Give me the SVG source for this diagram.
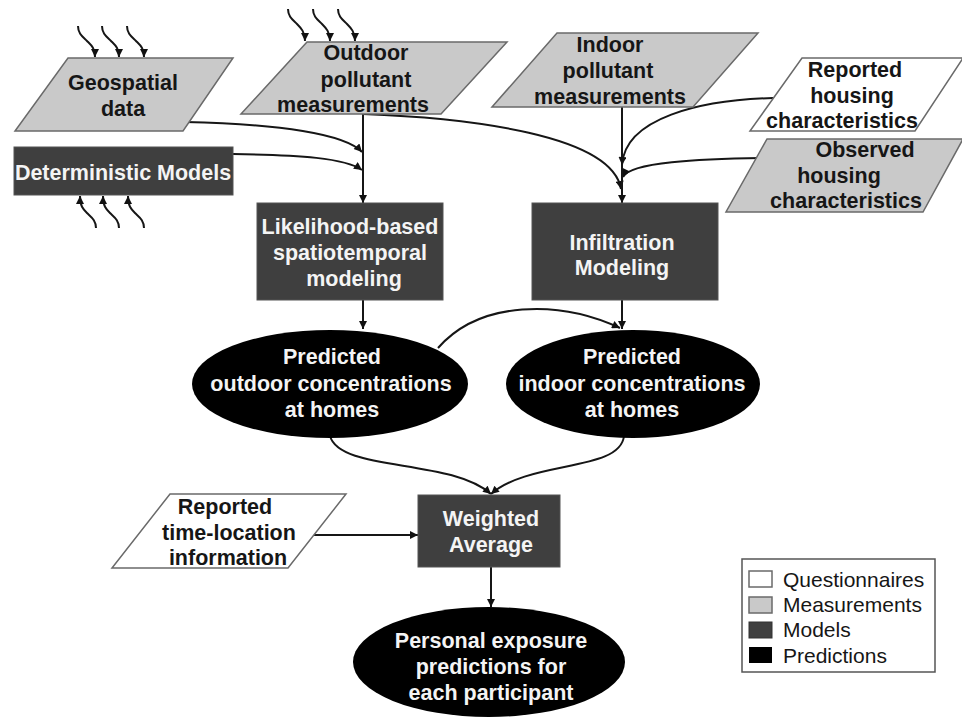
<svg xmlns="http://www.w3.org/2000/svg" width="962" height="727" viewBox="0 0 962 727">
<defs>
<marker id="ah" viewBox="0 0 10 10" refX="10" refY="5" markerWidth="9" markerHeight="8" markerUnits="userSpaceOnUse" orient="auto">
<path d="M0,0 L10,5 L0,10 Z" fill="#111"/>
</marker>
<style>
.meas{fill:#c9c9c9;stroke:#6a6a6a;stroke-width:1.5}
.ques{fill:#fff;stroke:#6a6a6a;stroke-width:1.5}
.model{fill:#3f3f3f;stroke:#555;stroke-width:1}
.pred{fill:#000}
.t{font-family:"Liberation Sans",Arial,sans-serif;font-weight:bold;font-size:21.5px;text-anchor:middle}
.dk{fill:#161616}
.wt{fill:#f4f4f4}
.c{fill:none;stroke:#161616;stroke-width:2}
.cm{fill:none;stroke:#161616;stroke-width:2;marker-end:url(#ah)}
.sq{fill:none;stroke:#161616;stroke-width:2;marker-end:url(#ah)}
.lg{font-family:"Liberation Sans",Arial,sans-serif;font-size:21px;fill:#161616}
</style>
</defs>
<rect width="962" height="727" fill="#fff"/>

<g id="connectors">
<path class="cm" d="M185,122 C280,124 345,134 362,152"/>
<path class="cm" d="M233,154 C300,155 345,158 362,170"/>
<path class="cm" d="M363,114 L363,203"/>
<path class="cm" d="M363,114 C470,118 612,135 621,189"/>
<path class="cm" d="M622,107 L622,203"/>
<path class="cm" d="M773,98 C700,100 625,118 622,165"/>
<path class="cm" d="M762,158 C700,159 630,162 623,177"/>
<path class="cm" d="M363,300 L363,329"/>
<path class="cm" d="M622,300 L622,329"/>
<path class="cm" d="M438,348 C480,300 560,300 620,328"/>
<path class="cm" d="M330,436 C340,472 450,458 491,494"/>
<path class="cm" d="M624,436 C620,472 530,460 491,494"/>
<path class="cm" d="M313,535 L418,535"/>
<path class="cm" d="M491,567 L491,607"/>
<!-- squiggles -->
<path class="sq" d="M78,26 c0,8 5,11 9,15 c4,4 8,7 8,16"/>
<path class="sq" d="M102,26 c0,8 5,11 9,15 c4,4 8,7 8,16"/>
<path class="sq" d="M127,26 c0,8 5,11 9,15 c4,4 8,7 8,16"/>
<path class="sq" d="M288,9 c0,8 5,11 9,15 c4,4 8,8 8,17"/>
<path class="sq" d="M313,9 c0,8 5,11 9,15 c4,4 8,8 8,17"/>
<path class="sq" d="M338,9 c0,8 5,11 9,15 c4,4 8,8 8,17"/>
<path class="sq" d="M96,228 c0,-8 -5,-11 -9,-15 c-4,-4 -7,-7 -7,-17"/>
<path class="sq" d="M119,228 c0,-8 -5,-11 -9,-15 c-4,-4 -7,-7 -7,-17"/>
<path class="sq" d="M144,228 c0,-8 -5,-11 -9,-15 c-4,-4 -7,-7 -7,-17"/>
</g>

<g id="geospatial">
<polygon class="meas" points="68,58 233,58 183,131 15,131"/>
<text class="t dk" x="123" y="90">Geospatial</text>
<text class="t dk" x="123" y="116">data</text>
</g>

<g id="outdoor">
<polygon class="meas" points="307,42 507,42 441,114 241,114"/>
<text class="t dk" x="366" y="60">Outdoor</text>
<text class="t dk" x="366" y="87">pollutant</text>
<text class="t dk" x="353" y="112">measurements</text>
</g>

<g id="indoor">
<polygon class="meas" points="557,33 758,33 693,107 492,107"/>
<text class="t dk" x="610" y="52">Indoor</text>
<text class="t dk" x="608" y="78">pollutant</text>
<text class="t dk" x="610" y="104">measurements</text>
</g>

<g id="reported-housing">
<polygon class="ques" points="802,58 963,58 915,131 750,131"/>
<text class="t dk" x="855" y="77">Reported</text>
<text class="t dk" x="852" y="103">housing</text>
<text class="t dk" x="842" y="128">characteristics</text>
</g>

<g id="observed-housing">
<polygon class="meas" points="767,139 963,139 923,212 726,212"/>
<text class="t dk" x="865" y="157">Observed</text>
<text class="t dk" x="839" y="183">housing</text>
<text class="t dk" x="846" y="208">characteristics</text>
</g>

<g id="deterministic">
<rect class="model" x="14" y="147" width="219" height="48"/>
<text class="t wt" x="123" y="180">Deterministic Models</text>
</g>

<g id="likelihood">
<rect class="model" x="257" y="203" width="186" height="97"/>
<text class="t wt" x="350" y="234">Likelihood-based</text>
<text class="t wt" x="350" y="260">spatiotemporal</text>
<text class="t wt" x="354" y="286">modeling</text>
</g>

<g id="infiltration">
<rect class="model" x="532" y="203" width="186" height="97"/>
<text class="t wt" x="622" y="250">Infiltration</text>
<text class="t wt" x="622" y="275">Modeling</text>
</g>

<g id="pred-outdoor">
<ellipse class="pred" cx="330" cy="384" rx="138" ry="54"/>
<text class="t wt" x="332" y="364">Predicted</text>
<text class="t wt" x="331" y="391">outdoor concentrations</text>
<text class="t wt" x="332" y="417">at homes</text>
</g>

<g id="pred-indoor">
<ellipse class="pred" cx="633" cy="384" rx="127" ry="54"/>
<text class="t wt" x="632" y="364">Predicted</text>
<text class="t wt" x="632" y="391">indoor concentrations</text>
<text class="t wt" x="632" y="417">at homes</text>
</g>

<g id="time-location">
<polygon class="ques" points="170,494 346,494 288,568 112,568"/>
<text class="t dk" x="225" y="514">Reported</text>
<text class="t dk" x="229" y="540">time-location</text>
<text class="t dk" x="228" y="565">information</text>
</g>

<g id="weighted">
<rect class="model" x="418" y="495" width="142" height="72"/>
<text class="t wt" x="491" y="526">Weighted</text>
<text class="t wt" x="491" y="552">Average</text>
</g>

<g id="personal">
<ellipse class="pred" cx="489" cy="662" rx="136" ry="55"/>
<text class="t wt" x="491" y="648">Personal exposure</text>
<text class="t wt" x="491" y="674">predictions for</text>
<text class="t wt" x="491" y="700">each participant</text>
</g>

<g id="legend">
<rect x="742" y="559" width="193" height="113" fill="#fff" stroke="#555" stroke-width="1.5"/>
<rect class="ques" x="749" y="571" width="23" height="16"/>
<rect class="meas" x="749" y="597" width="23" height="16"/>
<rect x="749" y="622" width="23" height="16" fill="#3f3f3f" stroke="#333"/>
<rect x="749" y="647" width="23" height="16" fill="#000"/>
<text class="lg" x="783" y="587">Questionnaires</text>
<text class="lg" x="783" y="612">Measurements</text>
<text class="lg" x="783" y="637">Models</text>
<text class="lg" x="783" y="663">Predictions</text>
</g>
</svg>
